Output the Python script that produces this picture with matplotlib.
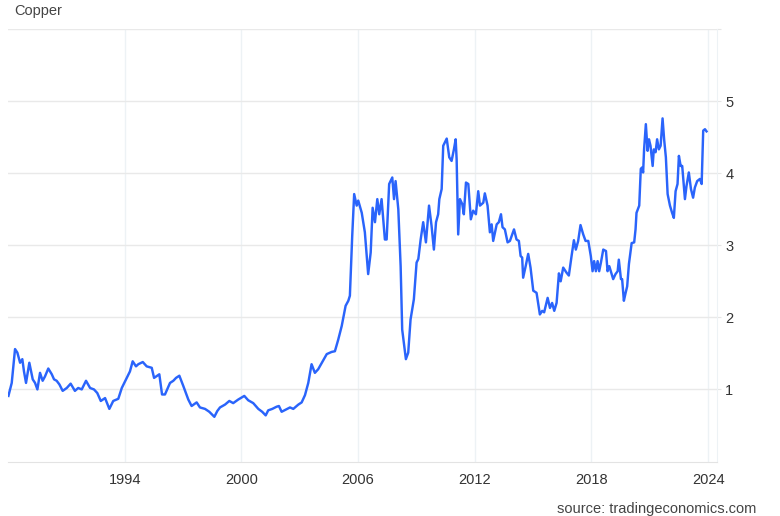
import numpy as np
import matplotlib
matplotlib.use('Agg')
from matplotlib import pyplot as plt

# copper price (USD/lb) as (decimal year, price)
years = [
    1988.02, 1988.19, 1988.36, 1988.48, 1988.62, 1988.735, 1988.82, 1988.925,
    1989.095, 1989.27, 1989.39, 1989.51, 1989.645, 1989.78, 1989.90,
    1990.07, 1990.25, 1990.365, 1990.50, 1990.64, 1990.81,
    1991.02, 1991.22, 1991.44, 1991.61, 1991.79,
    1992.01, 1992.22, 1992.42, 1992.59, 1992.77, 1992.99,
    1993.21, 1993.41, 1993.67, 1993.85,
    1994.07, 1994.27, 1994.41, 1994.58, 1994.70, 1994.93,
    1995.13, 1995.39, 1995.51, 1995.78, 1995.92,
    1996.07, 1996.33, 1996.50, 1996.64, 1996.81,
    1997.01, 1997.27, 1997.44, 1997.70, 1997.87,
    1998.13, 1998.35, 1998.61, 1998.76, 1998.90,
    1999.16, 1999.38, 1999.58, 1999.84,
    2000.15, 2000.35, 2000.61, 2000.87,
    2001.07, 2001.25, 2001.38, 2001.59, 2001.81, 2001.93,
    2002.07, 2002.28, 2002.50, 2002.67, 2002.93,
    2003.10, 2003.27, 2003.44, 2003.61, 2003.78, 2003.95,
    2004.16, 2004.39, 2004.64, 2004.81, 2004.98,
    2005.16, 2005.36, 2005.50, 2005.58, 2005.70, 2005.80, 2005.93,
    2006.01, 2006.19, 2006.35, 2006.52, 2006.65, 2006.75, 2006.87, 2006.99,
    2007.09, 2007.21, 2007.38, 2007.47, 2007.60, 2007.76, 2007.85, 2007.93,
    2008.07, 2008.19, 2008.27, 2008.46, 2008.58, 2008.70, 2008.87,
    2009.01, 2009.10, 2009.22, 2009.35, 2009.49, 2009.65, 2009.78, 2009.90,
    2010.01, 2010.12, 2010.18, 2010.30, 2010.38, 2010.47, 2010.56, 2010.69,
    2010.81, 2010.93,
    2011.02, 2011.07, 2011.15, 2011.24, 2011.36, 2011.44, 2011.55, 2011.67,
    2011.80, 2011.92,
    2012.06, 2012.18, 2012.27, 2012.44, 2012.52, 2012.66, 2012.78, 2012.87,
    2012.95,
    2013.13, 2013.24, 2013.35, 2013.43, 2013.55, 2013.69, 2013.81,
    2014.02, 2014.15, 2014.27, 2014.36, 2014.44, 2014.49, 2014.62, 2014.75,
    2014.87,
    2015.01, 2015.18, 2015.35, 2015.47, 2015.57, 2015.75, 2015.87, 2015.98,
    2016.09, 2016.21, 2016.33, 2016.42, 2016.55, 2016.72, 2016.84, 2016.98,
    2017.10, 2017.20, 2017.32, 2017.44, 2017.58, 2017.70, 2017.84, 2017.97,
    2018.06, 2018.14, 2018.23, 2018.32, 2018.40, 2018.49, 2018.61, 2018.75,
    2018.83, 2018.92,
    2019.00, 2019.12, 2019.24, 2019.35, 2019.41, 2019.52, 2019.58, 2019.67,
    2019.76, 2019.84, 2019.93,
    2020.07, 2020.20, 2020.27, 2020.32, 2020.46, 2020.54, 2020.61, 2020.66,
    2020.71, 2020.80, 2020.89, 2020.96,
    2021.04, 2021.15, 2021.21, 2021.30, 2021.38, 2021.47, 2021.56, 2021.66,
    2021.74, 2021.83, 2021.92,
    2022.04, 2022.15, 2022.24, 2022.33, 2022.43, 2022.50, 2022.59, 2022.67,
    2022.81, 2022.89,
    2023.01, 2023.12, 2023.23, 2023.32, 2023.44, 2023.58, 2023.67, 2023.75,
    2023.84, 2023.92,
]
prices = [
    0.91, 1.09, 1.56, 1.51, 1.37, 1.42, 1.25, 1.09,
    1.37, 1.14, 1.09, 1.00, 1.23, 1.12, 1.18,
    1.29, 1.21, 1.14, 1.12, 1.07, 0.98,
    1.02, 1.08, 0.98, 1.02, 1.00,
    1.12, 1.02, 1.00, 0.95, 0.84, 0.88,
    0.73, 0.84, 0.87, 1.02,
    1.14, 1.25, 1.39, 1.32, 1.35, 1.38,
    1.32, 1.30, 1.16, 1.21, 0.93,
    0.93, 1.09, 1.12, 1.16, 1.19,
    1.05, 0.86, 0.77, 0.82, 0.75,
    0.73, 0.69, 0.62, 0.70, 0.75,
    0.79, 0.84, 0.81, 0.86,
    0.91, 0.85, 0.81, 0.73,
    0.69, 0.64, 0.71, 0.73, 0.76, 0.77,
    0.69, 0.72, 0.75, 0.73, 0.79,
    0.82, 0.92, 1.09, 1.35, 1.23, 1.28,
    1.38, 1.49, 1.52, 1.53, 1.69,
    1.88, 2.16, 2.23, 2.30, 3.13, 3.71, 3.55,
    3.62, 3.45, 3.18, 2.60, 2.90, 3.52, 3.32, 3.64,
    3.43, 3.64, 3.08, 3.08, 3.85, 3.94, 3.64, 3.89,
    3.50, 2.71, 1.83, 1.42, 1.51, 1.97, 2.25,
    2.76, 2.81, 3.08, 3.32, 3.04, 3.55, 3.27, 2.94,
    3.32, 3.43, 3.64, 3.78, 4.38, 4.43, 4.48, 4.22,
    4.17, 4.33,
    4.47, 4.19, 3.15, 3.64, 3.57, 3.43, 3.87, 3.85,
    3.36, 3.48,
    3.43, 3.75, 3.55, 3.59, 3.72, 3.55, 3.18, 3.29,
    3.06,
    3.29, 3.32, 3.43, 3.25, 3.22, 3.04, 3.06,
    3.22, 3.08, 3.06, 2.85, 2.83, 2.55, 2.71, 2.88,
    2.69,
    2.37, 2.34, 2.04, 2.09, 2.07, 2.27, 2.13, 2.20,
    2.09, 2.20, 2.61, 2.50, 2.69, 2.62, 2.58, 2.85,
    3.07, 2.94, 3.06, 3.28, 3.15, 3.06, 3.06, 2.85,
    2.64, 2.78, 2.64, 2.78, 2.64, 2.76, 2.94, 2.92,
    2.64, 2.71,
    2.64, 2.53, 2.60, 2.64, 2.80, 2.53, 2.53, 2.23,
    2.34, 2.43, 2.74,
    3.03, 3.04, 3.22, 3.45, 3.55, 4.06, 4.08, 4.01,
    4.33, 4.68, 4.31, 4.47,
    4.38, 4.10, 4.33, 4.29, 4.47, 4.33, 4.38, 4.76,
    4.47, 4.22, 3.71,
    3.55, 3.45, 3.38, 3.75, 3.85, 4.24, 4.10, 4.10,
    3.64, 3.82,
    4.01, 3.78, 3.66, 3.80, 3.89, 3.92, 3.85, 4.59,
    4.61, 4.58,
]

x_ticks = [1994, 2000, 2006, 2012, 2018, 2024]
y_ticks = [1, 2, 3, 4, 5]

plt.rcParams['font.family'] = ['Liberation Sans', 'DejaVu Sans']

fig = plt.figure(figsize=(7.8, 5.16), dpi=100)
ax = fig.add_axes([0.0103, 0.1056, 0.9087, 0.8382])

ax.plot(years, prices, color='#2a64fb', linewidth=1.75, solid_joinstyle='round')

ax.set_xlim(1988.0, 2024.45)
ax.set_ylim(0, 6)

ax.set_xticks(x_ticks)
ax.set_xticklabels([str(t) for t in x_ticks])
ax.set_yticks(y_ticks + [6])
ax.set_yticklabels([str(t) for t in y_ticks] + [''])

ax.yaxis.tick_right()
ax.tick_params(axis='y', length=3, color='#e6e6e6', labelsize=10.5, labelcolor='#333333', pad=3)
ax.tick_params(axis='x', length=0, labelsize=10.5, labelcolor='#333333', pad=8)

ax.grid(axis='y', color='#e9e9e9', linewidth=1.0)
ax.grid(axis='x', color='#edf2f5', linewidth=1.0)
ax.set_axisbelow(True)

for side in ['top', 'left']:
    ax.spines[side].set_visible(False)
ax.spines['right'].set_color('#edf2f5')
ax.spines['bottom'].set_color('#e3e3e3')

fig.text(14 / 780, 1 - 15 / 516, 'Copper', fontsize=10.5, color='#444444', ha='left', va='baseline')
# reference has this line clipped by the bottom edge; keep it just inside
fig.text(557 / 780, 1 - 513 / 516, 'source: tradingeconomics.com', fontsize=10.5, color='#444444',
         ha='left', va='baseline')

fig.savefig('out.png', dpi=100)
